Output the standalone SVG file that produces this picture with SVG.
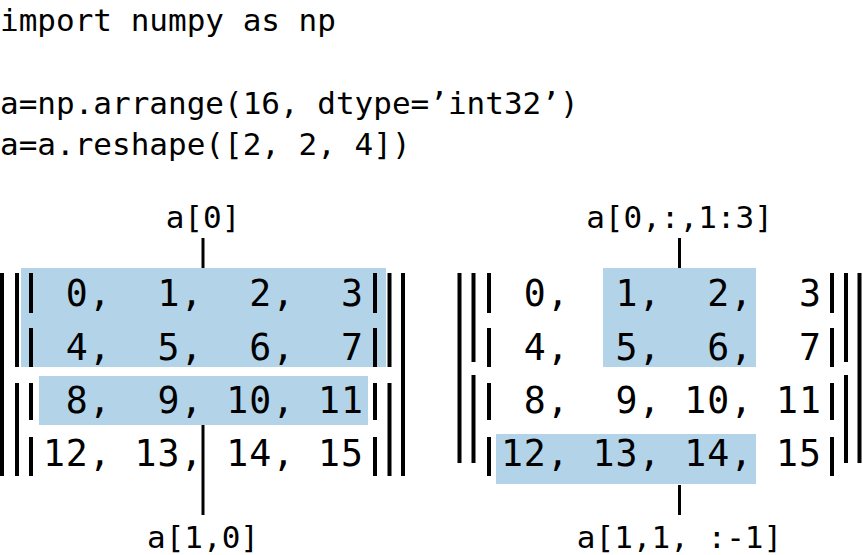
<svg xmlns="http://www.w3.org/2000/svg" width="863" height="555" viewBox="0 0 863 555" xml:space="preserve">
<style>
.code{font-family:"DejaVu Sans Mono","Liberation Mono",monospace;font-size:31px;fill:#000;white-space:pre}
.lbl{font-family:"DejaVu Sans Mono","Liberation Mono",monospace;font-size:31px;fill:#000;text-anchor:middle;white-space:pre}
.cell{font-family:"DejaVu Sans Mono","Liberation Mono",monospace;font-size:36.5px;letter-spacing:0.955px;fill:#000;white-space:pre}
.hl{fill:#b2d3e8}
.bar{stroke:#000;stroke-width:4;fill:none}
.conn{stroke:#000;stroke-width:3;fill:none}
</style>
<rect width="863" height="555" fill="#fff"/>
<g id="code">
<text class="code" x="0" y="31">import numpy as np</text>
<text class="code" x="0" y="114">a=np.arrange(16, dtype=’int32’)</text>
<text class="code" x="0" y="155">a=a.reshape([2, 2, 4])</text>
</g>
<g id="matrix-left">
<rect class="hl" x="21" y="268" width="365" height="99"/>
<rect class="hl" x="39" y="376" width="329" height="49"/>
<path class="bar" d="M2 273V476M17 273V367M17 383V476M31 273V313M31 328V367M31 383V420M31 437V476M375 273V313M375 328V367M375 383V420M375 437V476M389.5 273V367M389.5 383V476M403 273V476"/>
<text class="cell" x="42.9" y="306"> 0,  1,  2,  3</text>
<text class="cell" x="42.9" y="360"> 4,  5,  6,  7</text>
<text class="cell" x="42.9" y="413"> 8,  9, 10, 11</text>
<text class="cell" x="42.9" y="466">12, 13, 14, 15</text>
</g>
<g id="matrix-right">
<rect class="hl" x="603" y="268" width="153" height="99"/>
<rect class="hl" x="496" y="434" width="260" height="50"/>
<path class="bar" d="M459.5 273V463M473.5 273V362M473.5 375V463M489 273V313M489 328V367M489 383V420M489 437V476M832 273V313M832 328V367M832 383V420M832 437V476M846 273V362M846 375V463M859.5 273V463"/>
<text class="cell" x="500.9" y="306"> 0,  1,  2,  3</text>
<text class="cell" x="500.9" y="360"> 4,  5,  6,  7</text>
<text class="cell" x="500.9" y="413"> 8,  9, 10, 11</text>
<text class="cell" x="500.9" y="466">12, 13, 14, 15</text>
</g>
<g id="label-a0"><text class="lbl" x="203" y="228">a[0]</text></g>
<g id="label-a10"><text class="lbl" x="203" y="548">a[1,0]</text></g>
<g id="label-a0-slice"><text class="lbl" x="679.5" y="228">a[0,:,1:3]</text></g>
<g id="label-a11-slice"><text class="lbl" x="679.5" y="548">a[1,1, :-1]</text></g>
<g id="connectors">
<line class="conn" x1="203" y1="238" x2="203" y2="268"/>
<line class="conn" x1="203" y1="425" x2="203" y2="515"/>
<line class="conn" x1="679.5" y1="238" x2="679.5" y2="268"/>
<line class="conn" x1="679.5" y1="485" x2="679.5" y2="515"/>
</g>
</svg>
